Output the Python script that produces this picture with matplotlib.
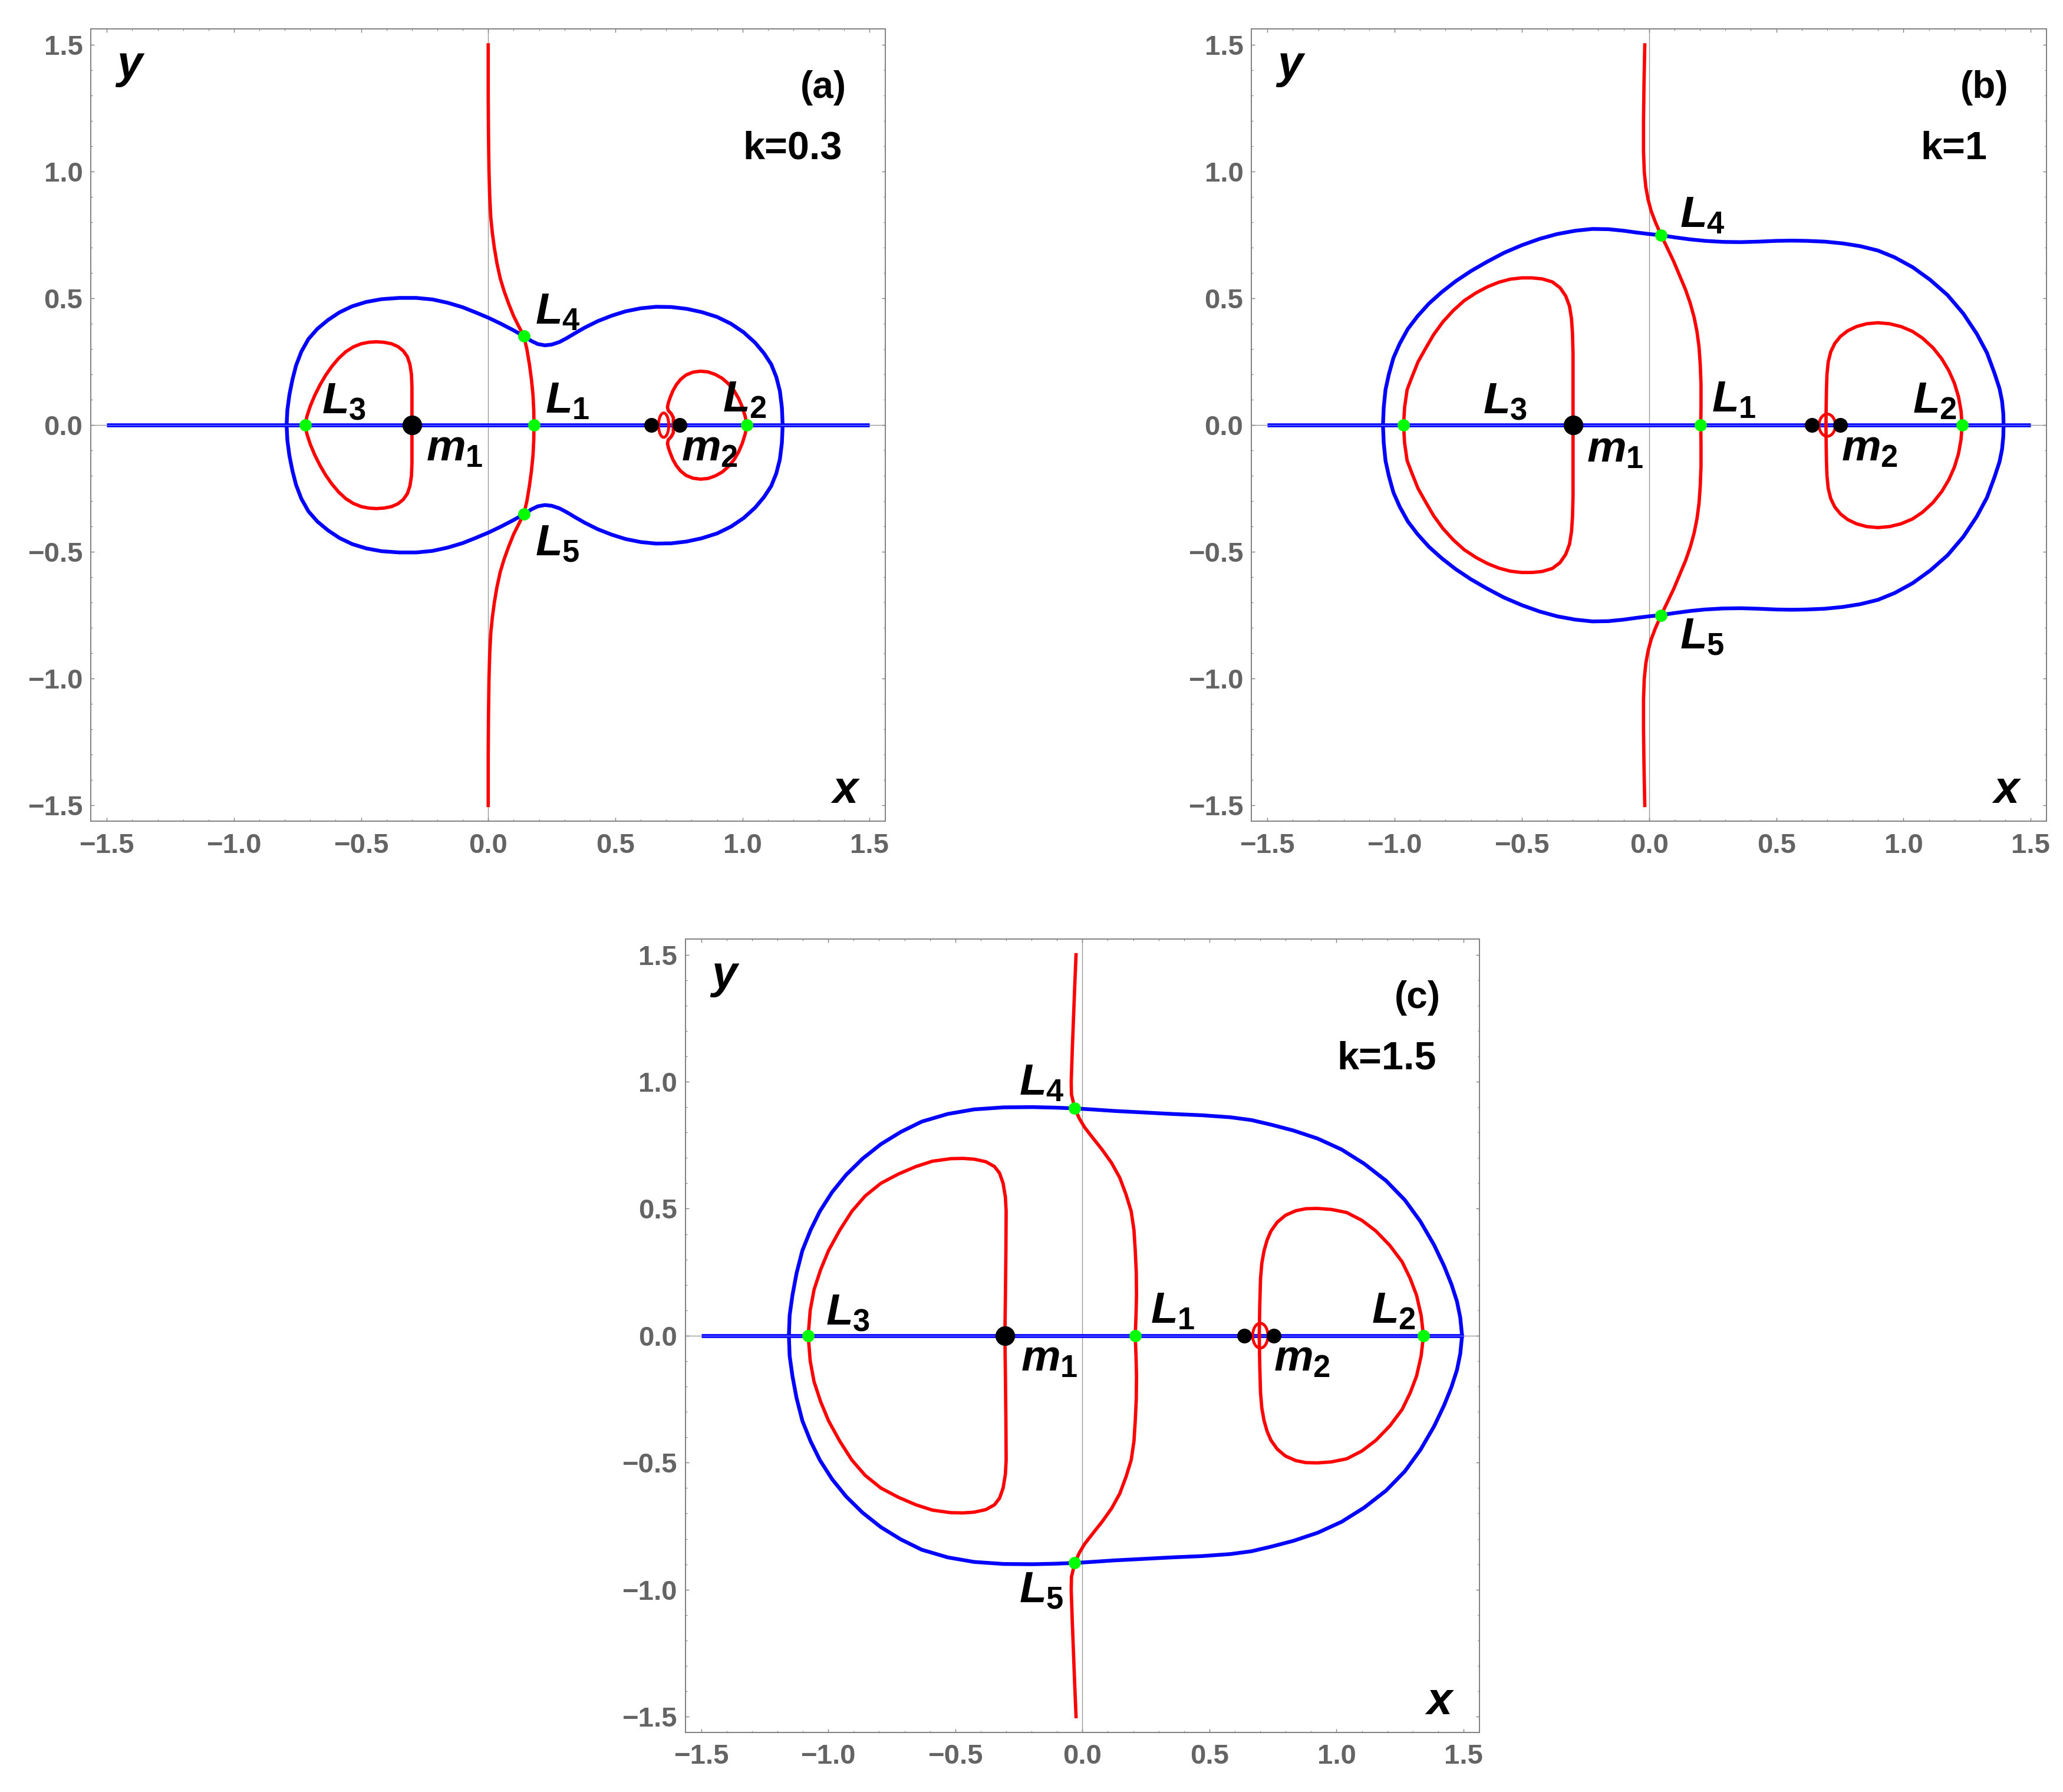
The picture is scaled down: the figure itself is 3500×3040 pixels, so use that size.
import matplotlib
matplotlib.use("Agg")
import matplotlib.pyplot as plt
from matplotlib.patches import Ellipse
from matplotlib.ticker import MultipleLocator

plt.rcParams['font.family'] = ['Liberation Sans', 'DejaVu Sans']
plt.rcParams['font.weight'] = 'bold'
plt.rcParams['mathtext.fontset'] = 'custom'
plt.rcParams['mathtext.it'] = 'Liberation Sans:italic:bold'
plt.rcParams['mathtext.rm'] = 'Liberation Sans:bold'
plt.rcParams['mathtext.bf'] = 'Liberation Sans:bold'

# values. all curves are symmetric about y = 0,
# so only the upper half (y >= 0) is listed, the lower half is its mirror

# ---------------- (a) k = 0.3
a_mid_x = [0.000, 0.000, 0.001, 0.003, 0.006, 0.010, 0.016, 0.024, 0.034, 0.047, 0.062, 0.080,
           0.100, 0.120, 0.140, 0.152, 0.162, 0.170, 0.176, 0.179, 0.180]
a_mid_y = [1.500, 1.300, 1.150, 1.000, 0.900, 0.820, 0.760, 0.700, 0.640, 0.580, 0.530, 0.480,
           0.430, 0.390, 0.351, 0.300, 0.240, 0.180, 0.120, 0.060, 0.000]
a_left_x = [-0.300, -0.300, -0.300, -0.302, -0.308, -0.318, -0.334, -0.355, -0.380, -0.410,
            -0.440, -0.470, -0.500, -0.530, -0.560, -0.588, -0.615, -0.640, -0.662, -0.682,
            -0.700, -0.713, -0.720]
a_left_y = [0.000, 0.080, 0.150, 0.200, 0.240, 0.270, 0.293, 0.310, 0.321, 0.327,
            0.329, 0.327, 0.321, 0.309, 0.290, 0.264, 0.232, 0.196, 0.158, 0.118,
            0.075, 0.035, 0.000]
a_right_x = [0.728, 0.728, 0.720, 0.708, 0.705, 0.709, 0.716, 0.726, 0.740, 0.757, 0.778, 0.805,
             0.835, 0.865, 0.893, 0.920, 0.945, 0.967, 0.985, 0.999, 1.010, 1.018]
a_right_y = [0.000, 0.030, 0.045, 0.058, 0.072, 0.090, 0.110, 0.135, 0.160, 0.181, 0.198, 0.209,
             0.213, 0.210, 0.200, 0.185, 0.163, 0.136, 0.105, 0.072, 0.037, 0.000]
a_zvc_x = [-0.793, -0.790, -0.782, -0.770, -0.756, -0.735, -0.707, -0.672, -0.630, -0.585,
           -0.535, -0.480, -0.420, -0.350, -0.283, -0.220, -0.160, -0.100, -0.050, 0.000,
           0.050, 0.100, 0.140, 0.170, 0.195, 0.223, 0.250, 0.280, 0.310, 0.340, 0.380,
           0.430, 0.486, 0.540, 0.600, 0.660, 0.720, 0.780, 0.840, 0.900, 0.955, 1.005,
           1.050, 1.085, 1.113, 1.133, 1.147, 1.155, 1.158]
a_zvc_y = [0.000, 0.060, 0.120, 0.180, 0.235, 0.290, 0.340, 0.380, 0.415, 0.445,
           0.469, 0.486, 0.497, 0.502, 0.502, 0.496, 0.483, 0.465, 0.445, 0.424,
           0.400, 0.374, 0.351, 0.332, 0.320, 0.315, 0.318, 0.328, 0.344, 0.362, 0.385,
           0.410, 0.432, 0.449, 0.461, 0.467, 0.466, 0.459, 0.446, 0.427, 0.400, 0.366,
           0.325, 0.283, 0.240, 0.190, 0.135, 0.070, 0.000]
a_oval = (0.690, 0.020, 0.048)          # centre x, half width, half height
a_Lx = [0.180, 1.018, -0.720, 0.140, 0.140]
a_Ly = [0.000, 0.000, 0.000, 0.351, -0.351]
a_m1 = -0.300
a_m2 = [0.641, 0.752]

# ---------------- (b) k = 1
b_mid_x = [-0.017, -0.020, -0.022, -0.022, -0.019, -0.013, -0.004, 0.008, 0.025, 0.047, 0.072,
           0.097, 0.120, 0.143, 0.162, 0.177, 0.188, 0.196, 0.201, 0.204, 0.204, 0.203]
b_mid_y = [1.500, 1.350, 1.200, 1.080, 1.000, 0.940, 0.890, 0.845, 0.800, 0.750, 0.698,
           0.645, 0.590, 0.535, 0.480, 0.425, 0.370, 0.310, 0.240, 0.160, 0.080, 0.000]
b_left_x = [-0.299, -0.299, -0.299, -0.301, -0.305, -0.313, -0.328, -0.350, -0.380, -0.420,
            -0.460, -0.500, -0.545, -0.590, -0.635, -0.680, -0.727, -0.770, -0.810, -0.847,
            -0.880, -0.908, -0.932, -0.951, -0.961, -0.965]
b_left_y = [0.000, 0.150, 0.280, 0.360, 0.420, 0.470, 0.510, 0.542, 0.565, 0.577,
            0.581, 0.581, 0.576, 0.564, 0.546, 0.522, 0.491, 0.452, 0.408, 0.357,
            0.300, 0.250, 0.190, 0.140, 0.070, 0.000]
b_right_x = [0.695, 0.696, 0.697, 0.699, 0.704, 0.714, 0.730, 0.752, 0.780, 0.815, 0.855, 0.899,
             0.945, 0.990, 1.035, 1.075, 1.116, 1.150, 1.178, 1.200, 1.216, 1.226, 1.230]
b_right_y = [0.000, 0.080, 0.140, 0.200, 0.250, 0.290, 0.323, 0.350, 0.372, 0.389, 0.400, 0.404,
             0.400, 0.389, 0.370, 0.343, 0.305, 0.262, 0.215, 0.165, 0.112, 0.056, 0.000]
b_zvc_x = [-1.046, -1.043, -1.036, -1.023, -1.005, -0.980, -0.948, -0.910, -0.865, -0.815,
           -0.760, -0.700, -0.636, -0.570, -0.500, -0.430, -0.361, -0.290, -0.223, -0.160,
           -0.100, -0.050, 0.000, 0.047, 0.100, 0.160, 0.220, 0.290, 0.360, 0.430, 0.500,
           0.560, 0.620, 0.690, 0.761, 0.830, 0.899, 0.965, 1.036, 1.105, 1.173, 1.235,
           1.288, 1.328, 1.357, 1.377, 1.387, 1.392, 1.393]
b_zvc_y = [0.000, 0.070, 0.140, 0.200, 0.265, 0.322, 0.380, 0.430, 0.480, 0.525,
           0.568, 0.608, 0.645, 0.680, 0.710, 0.735, 0.754, 0.767, 0.774, 0.773,
           0.767, 0.760, 0.754, 0.749, 0.741, 0.733, 0.727, 0.723, 0.722, 0.724, 0.727,
           0.728, 0.727, 0.724, 0.717, 0.706, 0.689, 0.662, 0.623, 0.573, 0.513, 0.440,
           0.360, 0.285, 0.206, 0.145, 0.096, 0.045, 0.000]
b_oval = (0.700, 0.032, 0.044)
b_Lx = [0.202, 1.230, -0.965, 0.047, 0.047]
b_Ly = [0.000, 0.000, 0.000, 0.750, -0.750]
b_m1 = -0.299
b_m2 = [0.640, 0.752]

# ---------------- (c) k = 1.5
c_mid_x = [-0.025, -0.030, -0.035, -0.040, -0.044, -0.043, -0.030, -0.012, 0.009, 0.040, 0.078,
           0.115, 0.147, 0.172, 0.192, 0.203, 0.208, 0.212, 0.213, 0.211, 0.208]
c_mid_y = [1.500, 1.380, 1.250, 1.120, 1.000, 0.950, 0.895, 0.855, 0.820, 0.780, 0.732,
           0.680, 0.622, 0.555, 0.490, 0.415, 0.335, 0.250, 0.159, 0.080, 0.000]
c_left_x = [-0.305, -0.303, -0.301, -0.300, -0.303, -0.312, -0.326, -0.346, -0.380, -0.426,
            -0.470, -0.518, -0.590, -0.655, -0.725, -0.793, -0.855, -0.907, -0.955, -0.999,
            -1.030, -1.056, -1.071, -1.079]
c_left_y = [0.000, 0.150, 0.335, 0.490, 0.545, 0.600, 0.640, 0.666, 0.685, 0.695,
            0.698, 0.697, 0.687, 0.666, 0.636, 0.600, 0.550, 0.490, 0.415, 0.335,
            0.260, 0.181, 0.100, 0.000]
c_right_x = [0.696, 0.698, 0.701, 0.706, 0.715, 0.727, 0.742, 0.767, 0.799, 0.840, 0.880, 0.925,
             0.980, 1.040, 1.100, 1.155, 1.210, 1.258, 1.290, 1.315, 1.333, 1.342]
c_right_y = [0.000, 0.120, 0.225, 0.285, 0.335, 0.377, 0.412, 0.447, 0.474, 0.492, 0.500, 0.501,
             0.497, 0.485, 0.454, 0.412, 0.355, 0.291, 0.225, 0.159, 0.080, 0.000]
c_zvc_x = [-1.155, -1.152, -1.141, -1.125, -1.102, -1.070, -1.033, -0.985, -0.930, -0.865,
           -0.793, -0.715, -0.632, -0.530, -0.426, -0.310, -0.197, -0.110, -0.030, 0.050,
           0.124, 0.240, 0.353, 0.470, 0.582, 0.665, 0.742, 0.830, 0.926, 1.020, 1.109,
           1.195, 1.269, 1.330, 1.384, 1.423, 1.452, 1.474, 1.487, 1.494]
c_zvc_y = [0.000, 0.080, 0.159, 0.245, 0.335, 0.415, 0.490, 0.565, 0.633, 0.697,
           0.754, 0.802, 0.843, 0.873, 0.891, 0.899, 0.900, 0.898, 0.895, 0.890,
           0.885, 0.879, 0.873, 0.868, 0.860, 0.849, 0.831, 0.808, 0.776, 0.733, 0.677,
           0.610, 0.534, 0.450, 0.357, 0.275, 0.203, 0.135, 0.071, 0.000]
c_oval = (0.700, 0.030, 0.049)
c_Lx = [0.208, 1.342, -1.079, -0.030, -0.030]
c_Ly = [0.000, 0.000, 0.000, 0.895, -0.895]
c_m1 = -0.305
c_m2 = [0.638, 0.753]

RED = '#ff0000'
BLUE = '#0000ff'
GREEN = '#00ff00'
LIM = 1.5625


def mirror(xs, ys):
    # upper half ending on y = 0 -> full curve through the lower half
    fx = list(xs) + list(xs[::-1])[1:]
    fy = list(ys) + [-v for v in ys[::-1]][1:]
    return fx, fy


panels = [
    dict(rect=[0.04409, 0.54168, 0.38514, 0.44211], tag='(a)', k='k=0.3',
         mid=(a_mid_x, a_mid_y), left=(a_left_x, a_left_y), right=(a_right_x, a_right_y),
         zvc=(a_zvc_x, a_zvc_y), oval=a_oval, L=(a_Lx, a_Ly), m1=a_m1, m2=a_m2,
         lab=[('1', 0.224, 0.048), ('2', 0.921, 0.053), ('3', -0.654, 0.048),
              ('4', 0.185, 0.399), ('5', 0.185, -0.513)],
         mlab=[(-0.243, -0.140), (0.760, -0.140)]),
    dict(rect=[0.60666, 0.54168, 0.38543, 0.44211], tag='(b)', k='k=1',
         mid=(b_mid_x, b_mid_y), left=(b_left_x, b_left_y), right=(b_right_x, b_right_y),
         zvc=(b_zvc_x, b_zvc_y), oval=b_oval, L=(b_Lx, b_Ly), m1=b_m1, m2=b_m2,
         lab=[('1', 0.246, 0.053), ('2', 1.036, 0.048), ('3', -0.652, 0.048),
              ('4', 0.120, 0.781), ('5', 0.120, -0.879)],
         mlab=[(-0.246, -0.145), (0.756, -0.140)]),
    dict(rect=[0.3322, 0.03322, 0.38494, 0.44286], tag='(c)', k='k=1.5',
         mid=(c_mid_x, c_mid_y), left=(c_left_x, c_left_y), right=(c_right_x, c_right_y),
         zvc=(c_zvc_x, c_zvc_y), oval=c_oval, L=(c_Lx, c_Ly), m1=c_m1, m2=c_m2,
         lab=[('1', 0.268, 0.049), ('2', 1.139, 0.049), ('3', -1.010, 0.044),
              ('4', -0.250, 0.948), ('5', -0.250, -1.050)],
         mlab=[(-0.243, -0.139), (0.754, -0.139)]),
]

fig = plt.figure(figsize=(35, 30.4), dpi=100)

for p in panels:
    ax = fig.add_axes(p['rect'])
    ax.set_xlim(-LIM, LIM)
    ax.set_ylim(-LIM, LIM)

    # mathematica style axes through the origin
    ax.axhline(0, color='#9a9a9a', lw=1.0, zorder=1)
    ax.axvline(0, color='#9a9a9a', lw=1.0, zorder=1)

    # blue: y = 0 and the closed curve
    ax.plot([-1.5, 1.5], [0, 0], color=BLUE, lw=4.8, zorder=2, solid_capstyle='butt')
    ax.plot([-1.5, 1.5], [0, 0], color='#7a7aff', lw=0.9, zorder=2.1)
    zx, zy = mirror(*p['zvc'])
    ax.plot(zx, zy, color=BLUE, lw=4.6, zorder=2, solid_joinstyle='round')

    # red curves
    for key in ('mid', 'left', 'right'):
        rx, ry = mirror(*p[key])
        ax.plot(rx, ry, color=RED, lw=4.1, zorder=3, solid_joinstyle='round')
    cx, hw, hh = p['oval']
    ax.add_patch(Ellipse((cx, 0), 2 * hw, 2 * hh, fill=False, ec=RED, lw=3.5, zorder=3))

    # primaries and equilibrium points
    ax.plot([p['m1']], [0], 'o', color='black', ms=23, zorder=4)
    ax.plot(p['m2'], [0, 0], 'o', color='black', ms=17, zorder=4)
    ax.plot(p['L'][0], p['L'][1], 'o', color=GREEN, ms=15, mec='none', zorder=5)

    for num, tx, ty in p['lab']:
        ax.text(tx, ty, r'$L_{%s}$' % num, fontsize=54, ha='left', va='baseline', zorder=6)
    for i, (tx, ty) in enumerate(p['mlab']):
        ax.text(tx, ty, r'$m_{%d}$' % (i + 1), fontsize=54, ha='left', va='baseline', zorder=6)

    ax.text(-1.46, 1.37, 'y', fontsize=56, fontweight='bold', fontstyle='italic',
            ha='left', va='baseline')
    ax.text(1.455, -1.49, 'x', fontsize=56, fontweight='bold', fontstyle='italic',
            ha='right', va='baseline')
    ax.text(1.318, 1.29, p['tag'], fontsize=46, fontweight='bold', ha='center', va='baseline')
    ax.text(1.197, 1.05, p['k'], fontsize=48, fontweight='bold', ha='center', va='baseline')

    ax.xaxis.set_major_locator(MultipleLocator(0.5))
    ax.yaxis.set_major_locator(MultipleLocator(0.5))
    ax.xaxis.set_minor_locator(MultipleLocator(0.1))
    ax.yaxis.set_minor_locator(MultipleLocator(0.1))
    ax.tick_params(which='both', direction='in', top=True, right=True,
                   color='#808080', labelcolor='#646464', labelsize=34)
    ax.tick_params(which='major', length=4, width=1.0)
    ax.tick_params(which='minor', length=2.2, width=0.8)
    ax.tick_params(axis='x', pad=14)
    ax.tick_params(axis='y', pad=10)
    for s in ax.spines.values():
        s.set_color('#808080')
        s.set_linewidth(1.4)

fig.savefig('out.png', dpi=100, facecolor='white')
